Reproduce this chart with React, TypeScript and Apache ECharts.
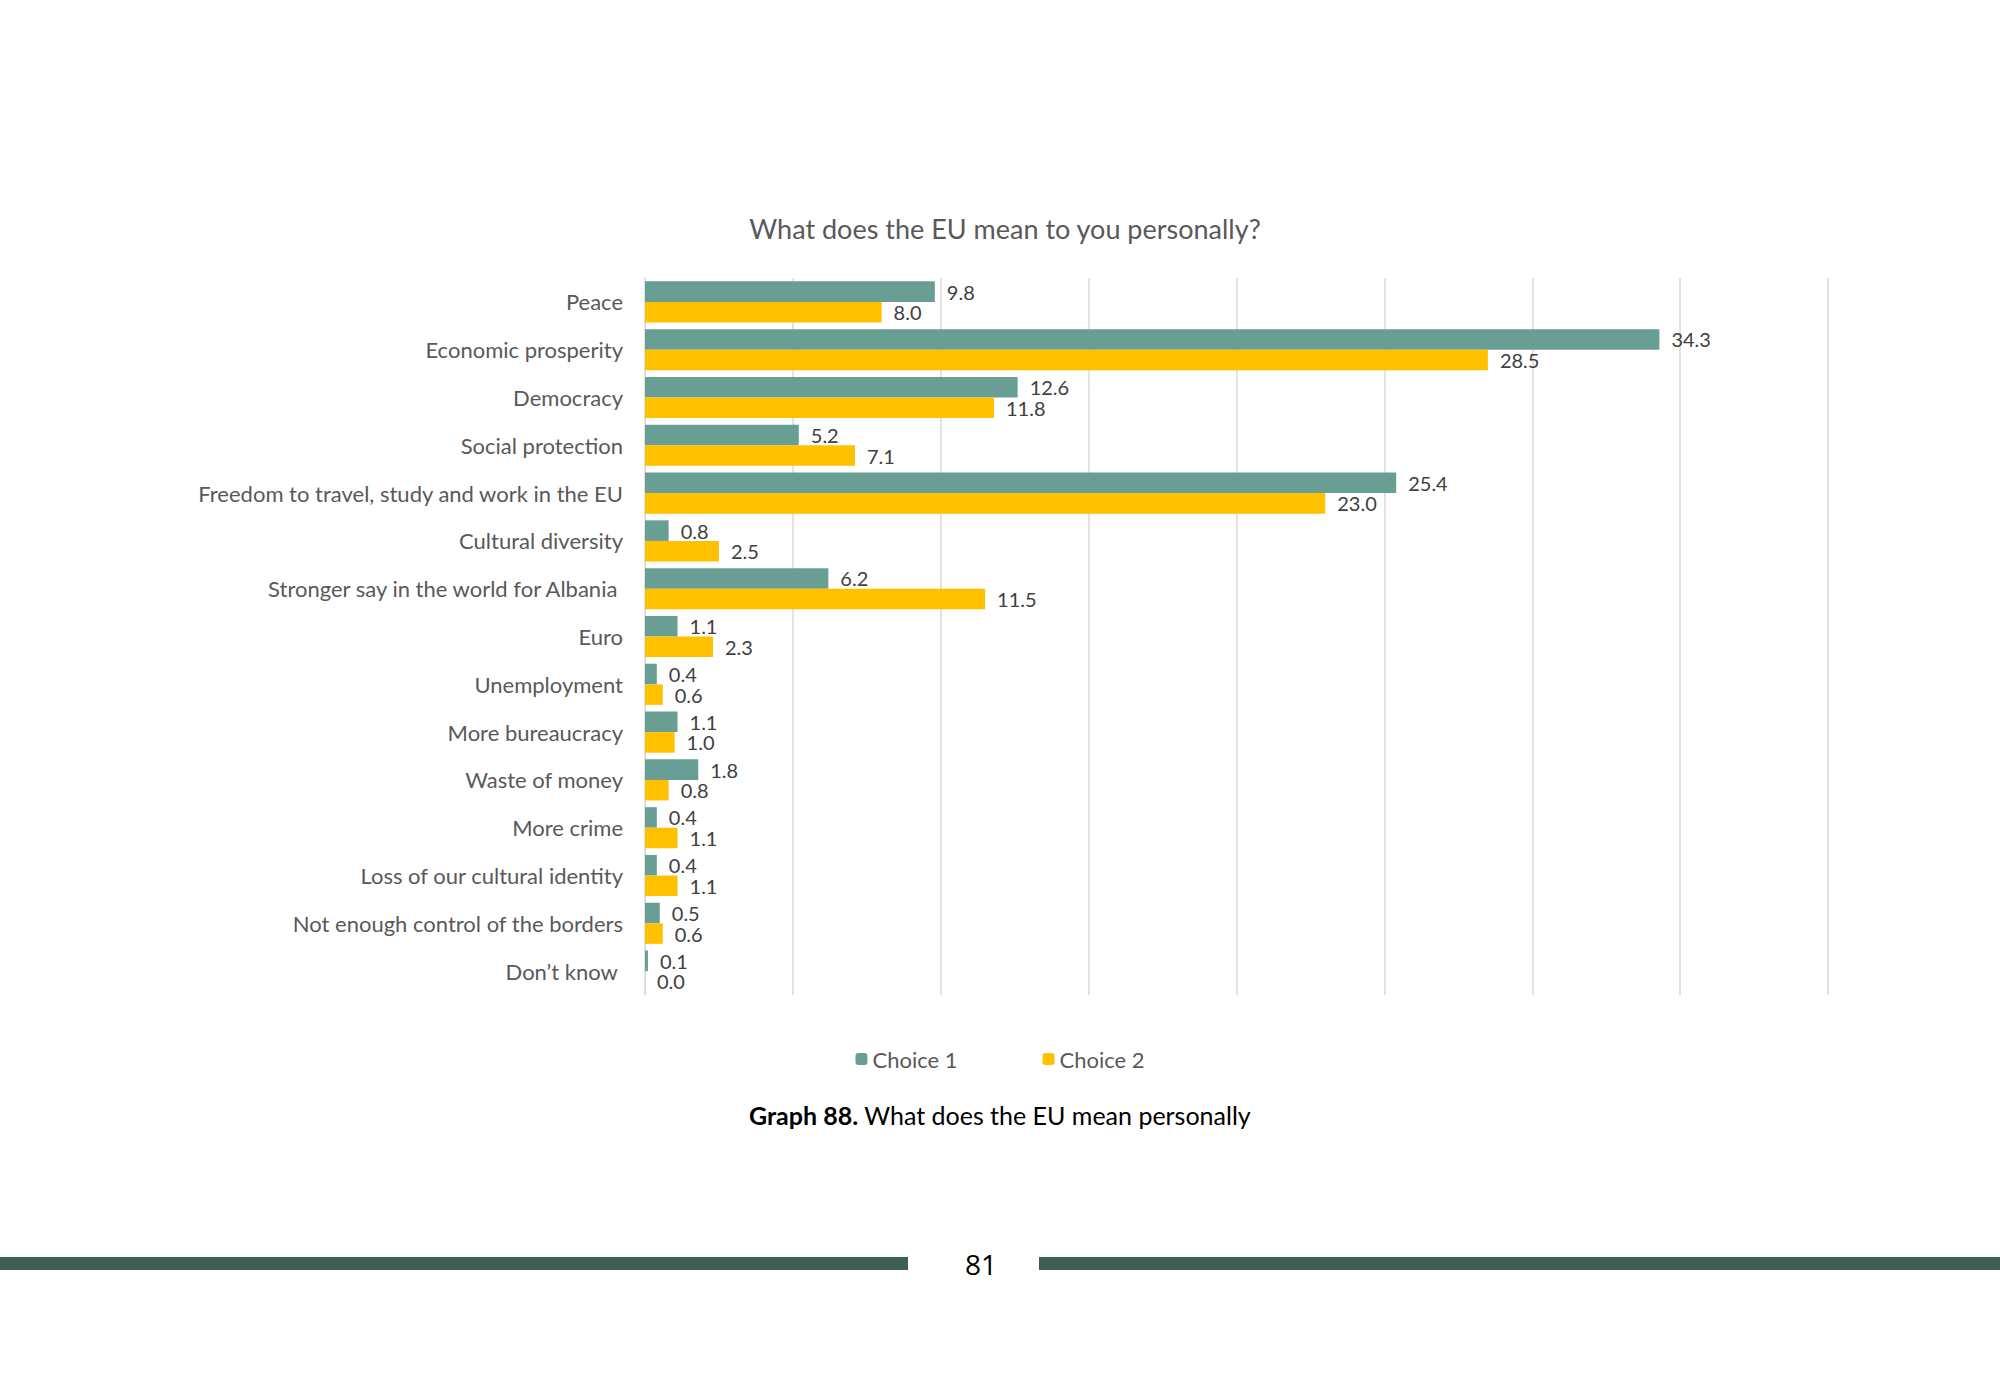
import { useEffect, useRef } from "react";
import * as echarts from "echarts";

const categories = [
  "Peace",
  "Economic prosperity",
  "Democracy",
  "Social protection",
  "Freedom to travel, study and work in the EU",
  "Cultural diversity",
  "Stronger say in the world for Albania ",
  "Euro",
  "Unemployment",
  "More bureaucracy",
  "Waste of money",
  "More crime",
  "Loss of our cultural identity",
  "Not enough control of the borders",
  "Don’t know ",
];
const choice1 = [9.8, 34.3, 12.6, 5.2, 25.4, 0.8, 6.2, 1.1, 0.4, 1.1, 1.8, 0.4, 0.4, 0.5, 0.1];
const choice2 = [8.0, 28.5, 11.8, 7.1, 23.0, 2.5, 11.5, 2.3, 0.6, 1.0, 0.8, 1.1, 1.1, 0.6, 0.0];

const FONT = "Lato, 'Open Sans', sans-serif";

export default function App() {
  const ref = useRef<HTMLDivElement>(null);

  useEffect(() => {
    if (!ref.current) return;
    const chart = echarts.init(ref.current, null, { renderer: "svg" });
    const label = {
      show: true,
      position: "right",
      color: "#404040",
      fontSize: 20,
      fontFamily: FONT,
      distance: 12,
      formatter: (p: any) => Number(p.value).toFixed(1),
    };
    chart.setOption({
      animation: false,
      backgroundColor: "#ffffff",
      title: {
        text: "What does the EU mean to you personally?",
        left: 1000,
        textAlign: "center",
        top: 210,
        textStyle: { color: "#595959", fontSize: 27, fontWeight: "normal", fontFamily: FONT },
      },
      legend: {
        top: 1043,
        left: "center",
        itemWidth: 12,
        itemHeight: 12,
        itemGap: 85,
        textStyle: { color: "#595959", fontSize: 22, fontFamily: FONT },
        data: ["Choice 1", "Choice 2"],
      },
      grid: { left: 645, right: 172, top: 278, bottom: 385 },
      xAxis: {
        type: "value",
        min: 0,
        max: 40,
        interval: 5,
        axisLabel: { show: false },
        splitLine: { lineStyle: { color: "#d9d9d9", width: 1.5 } },
      },
      yAxis: {
        type: "category",
        inverse: true,
        data: categories,
        axisTick: { show: false },
        axisLine: { lineStyle: { color: "#d9d9d9" } },
        axisLabel: { color: "#595959", fontSize: 22, fontFamily: FONT, margin: 22 },
      },
      series: [
        {
          name: "Choice 1",
          type: "bar",
          data: choice1,
          barGap: "0%",
          barCategoryGap: "14%",
          itemStyle: { color: "#699e95" },
          label,
        },
        {
          name: "Choice 2",
          type: "bar",
          data: choice2,
          itemStyle: { color: "#ffc000" },
          label,
        },
      ],
      graphic: [
        {
          type: "text",
          left: "center",
          top: 1102,
          style: {
            text: "{b|Graph 88.} What does the EU mean personally",
            fontSize: 25,
            fontFamily: FONT,
            fill: "#000",
            rich: { b: { fontWeight: "bold", fontSize: 25, fontFamily: FONT } },
          },
        },
        { type: "rect", shape: { x: 0, y: 1257, width: 908, height: 13 }, style: { fill: "#3e5f58" } },
        { type: "rect", shape: { x: 1039, y: 1257, width: 961, height: 13 }, style: { fill: "#3e5f58" } },
        {
          type: "text",
          x: 981,
          y: 1250,
          style: { text: "81", fontSize: 28, fill: "#000", fontFamily: "'Open Sans', sans-serif", textAlign: "center" },
        },
      ],
    });
    return () => chart.dispose();
  }, []);

  return (
    <div
      ref={ref}
      style={{ position: "fixed", left: 0, top: 0, width: "2000px", height: "1380px" }}
    />
  );
}
